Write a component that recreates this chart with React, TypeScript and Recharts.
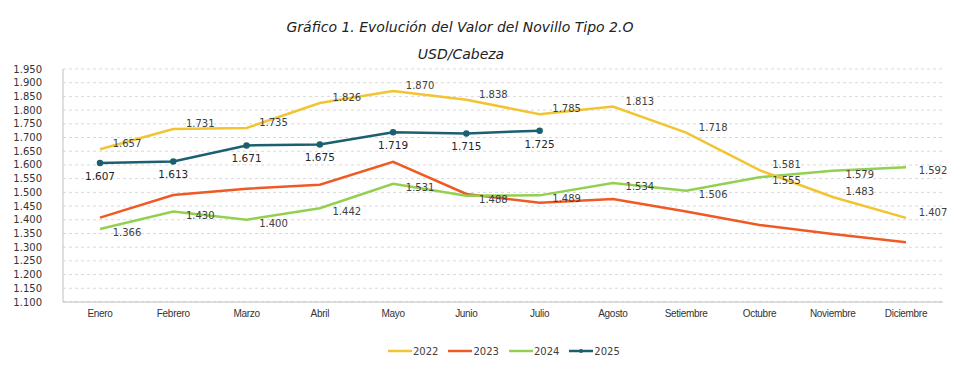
import { LineChart, Line, XAxis, YAxis, CartesianGrid } from 'recharts';

const months = ['Enero', 'Febrero', 'Marzo', 'Abril', 'Mayo', 'Junio', 'Julio', 'Agosto', 'Setiembre', 'Octubre', 'Noviembre', 'Diciembre'];
const v2022 = [1657, 1731, 1735, 1826, 1870, 1838, 1785, 1813, 1718, 1581, 1483, 1407];
const v2023 = [1408, 1490, 1513, 1528, 1611, 1494, 1462, 1476, 1430, 1381, 1348, 1318];
const v2024 = [1366, 1430, 1400, 1442, 1531, 1488, 1489, 1534, 1506, 1555, 1579, 1592];
const v2025 = [1607, 1613, 1671, 1675, 1719, 1715, 1725];
const yTicks = [1100, 1150, 1200, 1250, 1300, 1350, 1400, 1450, 1500, 1550, 1600, 1650, 1700, 1750, 1800, 1850, 1900, 1950];

const data = months.map((m, i) => ({
  month: m,
  y2022: v2022[i],
  y2023: v2023[i],
  y2024: v2024[i],
  y2025: i < v2025.length ? v2025[i] : null,
}));

const fmt = (v: number) => (v / 1000).toFixed(3);

const font = '"DejaVu Sans", Verdana, sans-serif';

// label to the right of the point, shifted up or down a little
const makeRightLabel = (shift: number) => (props: any) => {
  const { x, y, value } = props;
  if (value == null) return null;
  return (
    <text x={x + 27} y={y + shift} dy={4} textAnchor="middle" fontSize={10} fontFamily={font} fill="#404040">
      {fmt(value)}
    </text>
  );
};
const Label2022 = makeRightLabel(-6);
const Label2024 = makeRightLabel(3);

// label under the point (2025)
const BelowLabel = (props: any) => {
  const { x, y, value } = props;
  if (value == null) return null;
  return (
    <text x={x} y={y + 17} textAnchor="middle" fontSize={10.5} fontFamily={font} fill="#262626">
      {fmt(value)}
    </text>
  );
};

const legendItems = [
  { name: '2022', color: '#F2C433', dot: false },
  { name: '2023', color: '#EF5A24', dot: false },
  { name: '2024', color: '#92D050', dot: false },
  { name: '2025', color: '#1B5F70', dot: true },
];

export default function App() {
  return (
    <div style={{ position: 'absolute', left: 0, top: 0, width: 960, height: 368, background: '#fff' }}>
      <div style={{ position: 'absolute', top: 19, width: 920, textAlign: 'center', fontFamily: font, fontStyle: 'italic', fontSize: 14, color: '#222' }}>
        Gráfico 1. Evolución del Valor del Novillo Tipo 2.O
      </div>
      <div style={{ position: 'absolute', top: 46, width: 922, textAlign: 'center', fontFamily: font, fontStyle: 'italic', fontSize: 14, color: '#222' }}>
        USD/Cabeza
      </div>
      <LineChart width={960} height={368} data={data} margin={{ top: 69, right: 17, left: 0, bottom: 36 }}>
        <CartesianGrid horizontal vertical={false} stroke="#d9d9d9" strokeDasharray="3 3" />
        <XAxis
          dataKey="month"
          padding={{ left: 37, right: 37 }}
          stroke="#bfbfbf"
          tickLine={false}
          tick={{ fill: '#333', fontSize: 10, letterSpacing: -0.3, fontFamily: '"Liberation Sans", Arial, sans-serif' }}
          interval={0}
        />
        <YAxis
          width={63}
          domain={[1100, 1950]}
          ticks={yTicks}
          interval={0}
          tickFormatter={fmt}
          stroke="#bfbfbf"
          tickLine={false}
          tickMargin={15}
          tick={{ fill: '#333', fontSize: 10, fontFamily: font }}
        />
        <Line dataKey="y2023" stroke="#EF5A24" strokeWidth={2.5} dot={false} isAnimationActive={false} />
        <Line dataKey="y2024" stroke="#92D050" strokeWidth={2.5} dot={false} isAnimationActive={false} label={<Label2024 />} />
        <Line dataKey="y2022" stroke="#F2C433" strokeWidth={2.5} dot={false} isAnimationActive={false} label={<Label2022 />} />
        <Line
          dataKey="y2025"
          stroke="#1B5F70"
          strokeWidth={2.5}
          dot={{ r: 2, fill: '#1B5F70', stroke: '#1B5F70' }}
          isAnimationActive={false}
          label={<BelowLabel />}
        />
      </LineChart>
      <div style={{ position: 'absolute', top: 345, left: 388, display: 'flex', gap: 10, fontFamily: font, fontSize: 10, color: '#404040' }}>
        {legendItems.map((it) => (
          <div key={it.name} style={{ display: 'flex', alignItems: 'center' }}>
            <svg width={24} height={12}>
              <line x1={0} y1={6} x2={24} y2={6} stroke={it.color} strokeWidth={2.5} />
              {it.dot && <circle cx={12} cy={6} r={2} fill={it.color} />}
            </svg>
            <span style={{ marginLeft: 1 }}>{it.name}</span>
          </div>
        ))}
      </div>
    </div>
  );
}
